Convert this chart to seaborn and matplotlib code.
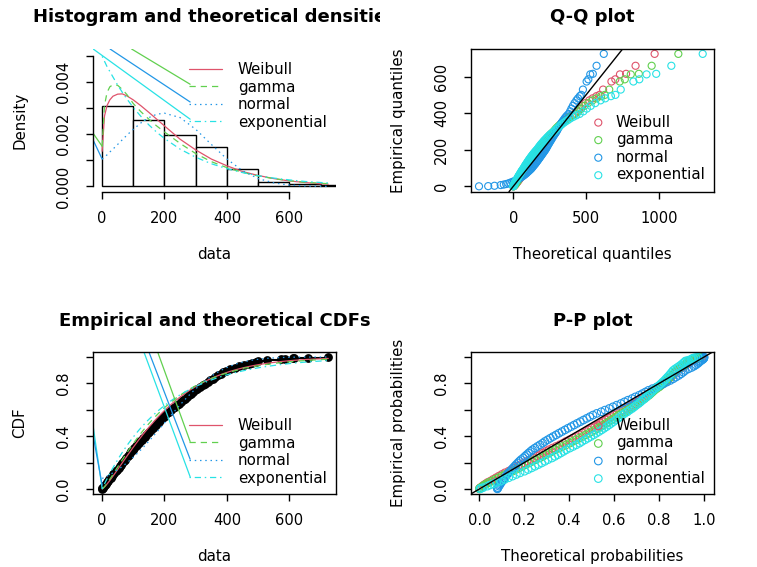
import numpy as np
import matplotlib
matplotlib.use("Agg")
import matplotlib.pyplot as plt
from matplotlib.transforms import Bbox, TransformedBbox
import seaborn as sns

sns.set_style("ticks")
plt.rcParams["font.family"] = ["DejaVu Sans"]
plt.rcParams["axes.edgecolor"] = "black"
plt.rcParams["axes.linewidth"] = 1.0
plt.rcParams["text.color"] = "black"
plt.rcParams["axes.labelcolor"] = "black"
plt.rcParams["xtick.color"] = "black"
plt.rcParams["ytick.color"] = "black"

# R default palette colours
col_weibull = "#DF536B"
col_gamma = "#61D04F"
col_normal = "#2297E6"
col_expo = "#28E2E5"
labels = ["Weibull", "gamma", "normal", "exponential"]

# histogram (density scale)
hist_edges = [0, 100, 200, 300, 400, 500, 600, 700, 800]
hist_density = [0.00308, 0.00256, 0.00199, 0.00153, 0.00068, 0.00017, 0.0001, 0.00004]

# theoretical density curves
dens_x = [0.5, 8, 16, 25, 35, 50, 65, 80, 100, 125, 150, 175, 200, 250, 300, 350,
          400, 450, 500, 550, 600, 650, 700, 724]
dens_weibull = [0.00135, 0.0027, 0.0031, 0.00332, 0.00346, 0.00354, 0.00355, 0.00347,
                0.00332, 0.00309, 0.00284, 0.00258, 0.00232, 0.00181, 0.0014, 0.00105,
                0.00079, 0.00057, 0.00042, 0.0003, 0.00021, 0.00015, 0.0001, 0.000086]
dens_gamma = [0.00154, 0.0031, 0.0036, 0.00382, 0.0039, 0.00388, 0.00372, 0.00352,
              0.00318, 0.00286, 0.00258, 0.00232, 0.00209, 0.00165, 0.00126, 0.00095,
              0.00072, 0.00054, 0.0004, 0.0003, 0.00022, 0.00016, 0.00012, 0.000105]
dens_normal = [0.00105, 0.00113, 0.00121, 0.00132, 0.00143, 0.00161, 0.00179, 0.00197,
               0.00219, 0.00244, 0.00264, 0.00277, 0.00281, 0.00264, 0.00219, 0.00161,
               0.00105, 0.0006, 0.0003, 0.000135, 0.000053, 0.000019, 0.000006, 0.000003]
dens_expo = [0.00499, 0.0048, 0.0046, 0.00441, 0.0042, 0.00389, 0.00361, 0.00335,
             0.00303, 0.00268, 0.00236, 0.00208, 0.00184, 0.00143, 0.00112, 0.00087,
             0.00068, 0.00053, 0.00041, 0.00032, 0.00025, 0.00019, 0.00015, 0.000134]

# empirical probabilities and quantiles of the sample
emp_prob = [0.0015, 0.0044, 0.0103, 0.022, 0.031, 0.04, 0.05, 0.06, 0.0725, 0.085,
            0.0975, 0.11, 0.1225, 0.135, 0.1475, 0.16, 0.1725, 0.185, 0.1975, 0.21,
            0.2225, 0.235, 0.2475, 0.26, 0.2725, 0.285, 0.2975, 0.31, 0.3225, 0.335,
            0.3475, 0.36, 0.3725, 0.385, 0.3975, 0.41, 0.4225, 0.435, 0.4475, 0.46,
            0.4725, 0.485, 0.4975, 0.51, 0.5225, 0.535, 0.5475, 0.56, 0.5725, 0.585,
            0.5975, 0.61, 0.6225, 0.635, 0.6475, 0.66, 0.6725, 0.685, 0.6975, 0.71,
            0.7225, 0.735, 0.7475, 0.76, 0.7725, 0.785, 0.7975, 0.81, 0.8225, 0.835,
            0.8475, 0.86, 0.8725, 0.885, 0.8975, 0.91, 0.92, 0.93, 0.94, 0.95,
            0.9575, 0.965, 0.97, 0.975, 0.9838, 0.9868, 0.9897, 0.9926, 0.9956, 0.9985]
emp_quant = [0.5, 1.5, 3.4, 7.3, 10, 13, 16, 20, 24, 28,
             32, 36, 40, 45, 49, 53, 57, 61, 65, 69,
             73, 78, 82, 86, 90, 94, 98, 103, 108, 113,
             118, 122, 127, 132, 137, 142, 147, 152, 157, 162,
             167, 172, 177, 182, 187, 192, 197, 202, 208, 215,
             221, 228, 234, 240, 247, 253, 259, 266, 272, 279,
             285, 291, 297, 305, 314, 322, 330, 338, 347, 355,
             363, 372, 380, 388, 396, 410, 425, 440, 455, 470,
             481, 493, 500, 529, 573, 585, 612, 615, 659, 724]

# theoretical quantiles (Q-Q)
qq_weibull = [1.2, 2.8, 5.6, 10.3, 13.6, 16.8, 20.2, 23.4, 27.4, 31.3,
              35.1, 38.9, 42.6, 46.3, 50.0, 53.7, 57.3, 61.0, 64.6, 68.3,
              72.0, 75.6, 79.3, 83.1, 86.8, 90.6, 94.4, 98.2, 102.0, 105.9,
              109.8, 113.8, 117.8, 121.9, 126.0, 130.1, 134.3, 138.6, 142.9, 147.3,
              151.8, 156.3, 160.9, 165.6, 170.4, 175.3, 180.2, 185.3, 190.5, 195.8,
              201.2, 206.8, 212.5, 218.4, 224.4, 230.6, 237.0, 243.5, 250.4, 257.4,
              264.7, 272.3, 280.2, 288.4, 297.1, 306.1, 315.6, 325.6, 336.2, 347.6,
              359.6, 372.7, 386.8, 402.2, 419.3, 438.3, 455.4, 474.5, 496.4, 522.0,
              544.5, 571.2, 592.1, 616.6, 674.0, 700.6, 732.5, 774.6, 839.6, 970.5]
qq_gamma = [1.2, 2.7, 5.2, 9.5, 12.4, 15.2, 18.2, 21.1, 24.7, 28.2,
            31.6, 34.9, 38.0, 41.6, 45.1, 48.6, 52.1, 55.6, 59.1, 62.6,
            66.1, 69.7, 73.2, 76.8, 80.4, 83.9, 87.6, 91.2, 94.9, 98.7,
            102.5, 106.3, 110.2, 114.1, 118.0, 122.0, 126.1, 130.3, 134.5, 138.9,
            143.2, 147.6, 152.2, 156.8, 161.5, 166.4, 171.3, 176.4, 181.6, 186.9,
            192.3, 197.9, 203.7, 209.6, 215.8, 222.0, 228.6, 235.4, 242.3, 249.5,
            257.1, 265.1, 273.2, 282.0, 291.1, 300.7, 310.9, 321.6, 333.1, 345.3,
            358.4, 372.8, 388.7, 405.6, 425.0, 446.5, 466.0, 488.2, 513.8, 544.0,
            571.1, 603.1, 628.7, 659.0, 731.0, 765.7, 806.8, 862.2, 950.1, 1133.3]
qq_normal = [-235.0, -172.0, -128.7, -86.0, -65.0, -48.6, -33.6, -20.8, -6.9, 5.2,
             16.0, 25.8, 34.9, 43.4, 51.3, 58.9, 66.0, 72.8, 79.2, 85.6,
             91.5, 97.5, 103.2, 108.7, 114.1, 119.3, 124.6, 129.6, 134.5, 139.5,
             144.3, 149.2, 153.9, 158.5, 163.1, 167.6, 172.2, 176.7, 181.3, 185.8,
             190.2, 194.6, 199.1, 203.6, 208.0, 212.5, 216.9, 221.4, 226.0, 230.5,
             235.1, 239.6, 244.3, 249.0, 253.8, 258.5, 263.5, 268.4, 273.4, 278.5,
             283.8, 289.2, 294.6, 300.3, 306.1, 312.0, 318.3, 324.7, 331.4, 338.3,
             345.6, 353.4, 361.7, 370.4, 380.1, 390.4, 399.5, 409.6, 420.8, 433.6,
             444.7, 457.3, 467.1, 478.3, 503.7, 515.4, 528.7, 546.1, 572.0, 621.5]
qq_expo = [0.3, 0.9, 2.1, 4.4, 6.3, 8.2, 10.3, 12.4, 15.1, 17.8,
           20.5, 23.3, 26.1, 29.0, 31.9, 34.9, 37.9, 40.9, 44.0, 47.1,
           50.3, 53.6, 56.9, 60.2, 63.6, 67.1, 70.6, 74.2, 77.9, 81.6,
           85.4, 89.3, 93.2, 97.2, 101.3, 105.5, 109.8, 114.2, 118.7, 123.2,
           127.9, 132.7, 137.6, 142.7, 147.8, 153.1, 158.6, 164.2, 170.0, 175.9,
           182.0, 188.3, 194.8, 201.6, 208.5, 215.8, 223.3, 231.0, 239.1, 247.6,
           256.4, 265.6, 275.3, 285.4, 296.1, 307.4, 319.4, 332.1, 345.8, 360.4,
           376.1, 393.2, 411.9, 432.6, 455.6, 481.6, 505.1, 531.9, 562.7, 599.1,
           631.7, 670.5, 701.3, 737.8, 824.6, 865.5, 915.1, 981.3, 1085.2, 1300.5]

# theoretical probabilities at the sample quantiles (P-P and CDF curves)
pp_weibull = [0.0005, 0.002, 0.0055, 0.0143, 0.0211, 0.0292, 0.0377, 0.0495, 0.0618, 0.0744,
              0.0873, 0.1005, 0.1137, 0.1306, 0.1441, 0.1578, 0.1714, 0.1851, 0.1988, 0.2124,
              0.226, 0.243, 0.2564, 0.2698, 0.283, 0.2963, 0.3095, 0.3256, 0.3416, 0.3575,
              0.3731, 0.3854, 0.4007, 0.4156, 0.4304, 0.4449, 0.4591, 0.4731, 0.4869, 0.5004,
              0.5136, 0.5267, 0.5394, 0.5519, 0.5641, 0.576, 0.5877, 0.5992, 0.6127, 0.6279,
              0.6405, 0.6548, 0.6667, 0.6784, 0.6914, 0.7023, 0.7128, 0.7247, 0.7345, 0.7457,
              0.7549, 0.7638, 0.7724, 0.7836, 0.7954, 0.8056, 0.8153, 0.8245, 0.8344, 0.8428,
              0.8508, 0.8594, 0.8666, 0.8735, 0.8801, 0.8909, 0.9014, 0.9111, 0.9198, 0.9278,
              0.9331, 0.9385, 0.9415, 0.9525, 0.9655, 0.9684, 0.9741, 0.9747, 0.9818, 0.989]
pp_gamma = [0.0005, 0.0021, 0.0059, 0.0159, 0.0236, 0.0329, 0.0426, 0.0561, 0.0701, 0.0844,
            0.099, 0.1138, 0.1286, 0.1473, 0.1622, 0.1771, 0.192, 0.2068, 0.2215, 0.2361,
            0.2505, 0.2684, 0.2826, 0.2966, 0.3104, 0.3241, 0.3375, 0.3541, 0.3703, 0.3863,
            0.402, 0.4144, 0.4295, 0.4443, 0.4587, 0.473, 0.4869, 0.5004, 0.5137, 0.5268,
            0.5394, 0.5518, 0.5638, 0.5756, 0.5871, 0.5983, 0.6095, 0.6202, 0.6327, 0.6468,
            0.6584, 0.6715, 0.6825, 0.6933, 0.705, 0.7149, 0.7244, 0.7355, 0.7444, 0.7546,
            0.7626, 0.7707, 0.7789, 0.7887, 0.7997, 0.8088, 0.8171, 0.8258, 0.8342, 0.8419,
            0.8495, 0.8571, 0.8639, 0.8701, 0.8757, 0.8862, 0.8956, 0.9042, 0.9164, 0.92,
            0.9252, 0.9304, 0.9333, 0.9441, 0.9578, 0.9603, 0.966, 0.9666, 0.9745, 0.9832]
pp_normal = [0.080, 0.0811, 0.083, 0.0874, 0.0905, 0.0939, 0.0975, 0.1024, 0.1077, 0.1129,
             0.1184, 0.124, 0.1299, 0.1374, 0.1439, 0.1503, 0.157, 0.1638, 0.1708, 0.178,
             0.1857, 0.1952, 0.203, 0.211, 0.2192, 0.2278, 0.2364, 0.2473, 0.2585, 0.27,
             0.2819, 0.2915, 0.3036, 0.316, 0.3285, 0.3416, 0.3546, 0.3677, 0.381, 0.3944,
             0.4083, 0.4219, 0.4357, 0.4495, 0.4634, 0.4777, 0.4916, 0.5056, 0.5223, 0.5422,
             0.5588, 0.5781, 0.5945, 0.611, 0.6297, 0.6454, 0.6609, 0.679, 0.6939, 0.711,
             0.7254, 0.7392, 0.7527, 0.77, 0.789, 0.8048, 0.8199, 0.8345, 0.8497, 0.8626,
             0.8745, 0.8871, 0.8976, 0.9072, 0.9162, 0.9304, 0.9435, 0.9545, 0.9637, 0.9714,
             0.9761, 0.9804, 0.9827, 0.9898, 0.9957, 0.9966, 0.9981, 0.9983, 0.9994, 0.9999]
pp_expo = [0.0025, 0.0075, 0.0169, 0.0358, 0.0488, 0.0629, 0.0769, 0.0952, 0.1131, 0.1306,
           0.1479, 0.1647, 0.1813, 0.2015, 0.2173, 0.2328, 0.248, 0.2629, 0.2775, 0.2918,
           0.3058, 0.323, 0.3363, 0.3495, 0.3624, 0.3751, 0.3874, 0.4025, 0.4173, 0.4316,
           0.4457, 0.4567, 0.4701, 0.4831, 0.4959, 0.5084, 0.5205, 0.5323, 0.5439, 0.5551,
           0.5662, 0.5768, 0.5873, 0.5975, 0.6074, 0.6171, 0.6266, 0.6358, 0.6465, 0.6587,
           0.6688, 0.6802, 0.6896, 0.6988, 0.7092, 0.7177, 0.7262, 0.7355, 0.7433, 0.7521,
           0.7595, 0.7666, 0.7735, 0.7824, 0.792, 0.8001, 0.808, 0.8155, 0.8237, 0.8305,
           0.8372, 0.8443, 0.8504, 0.8563, 0.8619, 0.8713, 0.8806, 0.8892, 0.8972, 0.9046,
           0.9097, 0.915, 0.9179, 0.929, 0.943, 0.9463, 0.9531, 0.9538, 0.9629, 0.9732]

# stray line segments that show up in the original rendering
dens_stray_green = ([95, 282], [0.00527, 0.00392])
dens_stray_blue = ([26, 282], [0.00527, 0.00324])
dens_stray_cyan = ([-28, 282], [0.00527, 0.00258])
dens_left_green = ([-28, 0.5], [0.00203, 0.00154])
dens_left_blue = ([-28, 0.5], [0.00177, 0.00105])
cdf_stray_green = ([177, 282], [1.045, 0.36])
cdf_stray_blue = ([149, 282], [1.045, 0.226])
cdf_stray_cyan = ([133, 282], [1.045, 0.093])
cdf_left_cyan = ([-28, 0.5], [0.47, 0.0025])
cdf_left_blue = ([-28, 0.5], [0.40, 0.03])

colors = [col_weibull, col_gamma, col_normal, col_expo]
styles = ["-", (0, (5, 4)), (0, (1.2, 3)), (0, (1.2, 3, 5, 3))]

fig = plt.figure(figsize=(7.57, 5.67), dpi=100)
ax1 = fig.add_axes([0.12285, 0.6619, 0.321, 0.25115])
ax2 = fig.add_axes([0.62219, 0.6619, 0.321, 0.25115])
ax3 = fig.add_axes([0.12285, 0.12822, 0.321, 0.2515])
ax4 = fig.add_axes([0.62219, 0.12822, 0.321, 0.2515])

leg_kw = dict(loc="upper left", frameon=False, fontsize=10.8, labelspacing=0.17,
              borderpad=0, borderaxespad=0)

# 1. histogram and theoretical densities
ax1.bar(hist_edges[:-1], hist_density, width=np.diff(hist_edges), align="edge",
        facecolor="white", edgecolor="black", linewidth=1.0)
for ys, c, ls, lab in zip([dens_weibull, dens_gamma, dens_normal, dens_expo], colors, styles, labels):
    sns.lineplot(x=dens_x, y=ys, ax=ax1, color=c, linestyle=ls, linewidth=0.9, label=lab)
for seg, c in [(dens_stray_green, col_gamma), (dens_stray_blue, col_normal),
               (dens_stray_cyan, col_expo), (dens_left_green, col_gamma),
               (dens_left_blue, col_normal)]:
    ax1.plot(seg[0], seg[1], color=c, linewidth=0.9)
ax1.set_xlim(-28.8, 748.8)
ax1.set_ylim(-0.000202, 0.00526)
ax1.spines["top"].set_visible(False)
ax1.spines["right"].set_visible(False)
ax1.spines["left"].set_bounds(0, 0.005)
ax1.spines["bottom"].set_bounds(0, 600)
ax1.set_xticks([0, 200, 400, 600])
ax1.set_yticks([0, 0.001, 0.002, 0.003, 0.004, 0.005])
ax1.set_yticklabels(["0.000", "", "0.002", "", "0.004", ""])
ax1.legend(bbox_to_anchor=(0.396, 0.911), handlelength=2.16, handletextpad=1.07, **leg_kw)
t1 = ax1.set_title("Histogram and theoretical densities", fontsize=13, fontweight="bold",
                   y=1.195, pad=0)
t1.set_clip_box(TransformedBbox(Bbox([[0, 0], [380 / 757, 1]]), fig.transFigure))
t1.set_clip_on(True)
ax1.set_xlabel("data")
ax1.set_ylabel("Density")

# 2. Q-Q plot
for xs, c, lab in zip([qq_weibull, qq_gamma, qq_normal, qq_expo], colors, labels):
    sns.scatterplot(x=xs, y=emp_quant, ax=ax2, marker="o", s=26, facecolor="none",
                    edgecolor=c, linewidth=0.8, label=lab)
ax2.axline((0, 0), slope=1, color="black", linewidth=1.0, zorder=3)
ax2.set_xlim(-290, 1378)
ax2.set_ylim(-29, 749)
ax2.set_xticks([0, 500, 1000])
ax2.set_yticks([0, 200, 400, 600])
ax2.legend(bbox_to_anchor=(0.493, 0.542), handlelength=1.0, handletextpad=0.68, **leg_kw)
ax2.set_title("Q-Q plot", fontsize=13, fontweight="bold", y=1.195, pad=0)
ax2.set_xlabel("Theoretical quantiles")
ax2.set_ylabel("Empirical quantiles")

# 3. empirical and theoretical CDFs
sns.lineplot(x=emp_quant, y=emp_prob, ax=ax3, color="black", linewidth=1.5,
             drawstyle="steps-post")
sns.scatterplot(x=emp_quant, y=emp_prob, ax=ax3, color="black", s=40, linewidth=0)
for ys, c, ls, lab in zip([pp_weibull, pp_gamma, pp_normal, pp_expo], colors, styles, labels):
    sns.lineplot(x=emp_quant, y=ys, ax=ax3, color=c, linestyle=ls, linewidth=0.9, label=lab)
for seg, c in [(cdf_stray_green, col_gamma), (cdf_stray_blue, col_normal),
               (cdf_stray_cyan, col_expo), (cdf_left_cyan, col_expo),
               (cdf_left_blue, col_normal)]:
    ax3.plot(seg[0], seg[1], color=c, linewidth=0.9)
ax3.set_xlim(-28.8, 748.8)
ax3.set_ylim(-0.04, 1.04)
ax3.set_xticks([0, 200, 400, 600])
ax3.set_yticks([0, 0.2, 0.4, 0.6, 0.8, 1.0])
ax3.set_yticklabels(["0.0", "", "0.4", "", "0.8", ""])
ax3.legend(bbox_to_anchor=(0.397, 0.535), handlelength=2.16, handletextpad=1.07, **leg_kw)
ax3.set_title("Empirical and theoretical CDFs", fontsize=13, fontweight="bold",
              y=1.183, pad=0)
ax3.set_xlabel("data")
ax3.set_ylabel("CDF")

# 4. P-P plot
for xs, c, lab in zip([pp_weibull, pp_gamma, pp_normal, pp_expo], colors, labels):
    sns.scatterplot(x=xs, y=emp_prob, ax=ax4, marker="o", s=30, facecolor="none",
                    edgecolor=c, linewidth=0.8, label=lab)
ax4.axline((0, 0), slope=1, color="black", linewidth=1.0, zorder=3)
ax4.set_xlim(-0.037, 1.044)
ax4.set_ylim(-0.04, 1.04)
ax4.set_xticks([0, 0.2, 0.4, 0.6, 0.8, 1.0])
ax4.set_xticklabels(["0.0", "0.2", "0.4", "0.6", "0.8", "1.0"])
ax4.set_yticks([0, 0.2, 0.4, 0.6, 0.8, 1.0])
ax4.set_yticklabels(["0.0", "", "0.4", "", "0.8", ""])
ax4.legend(bbox_to_anchor=(0.493, 0.536), handlelength=1.0, handletextpad=0.68, **leg_kw)
ax4.set_title("P-P plot", fontsize=13, fontweight="bold", y=1.183, pad=0)
ax4.set_xlabel("Theoretical probabilities")
ax4.set_ylabel("Empirical probabilities")

for ax, xl_y in [(ax1, -0.4396), (ax2, -0.4396), (ax3, -0.4327), (ax4, -0.4327)]:
    ax.tick_params(axis="both", length=4.8, width=1.0, labelsize=10.6, color="black")
    ax.tick_params(axis="x", pad=9)
    ax.tick_params(axis="y", pad=11, labelrotation=90)
    for lab in ax.get_yticklabels():
        lab.set_verticalalignment("center")
    ax.xaxis.label.set_fontsize(10.8)
    ax.yaxis.label.set_fontsize(10.8)
    ax.xaxis.label.set_verticalalignment("center")
    ax.yaxis.label.set_verticalalignment("center")
    ax.xaxis.set_label_coords(0.5, xl_y)
    ax.yaxis.set_label_coords(-0.3004, 0.5)

fig.savefig("out.png", dpi=100)
